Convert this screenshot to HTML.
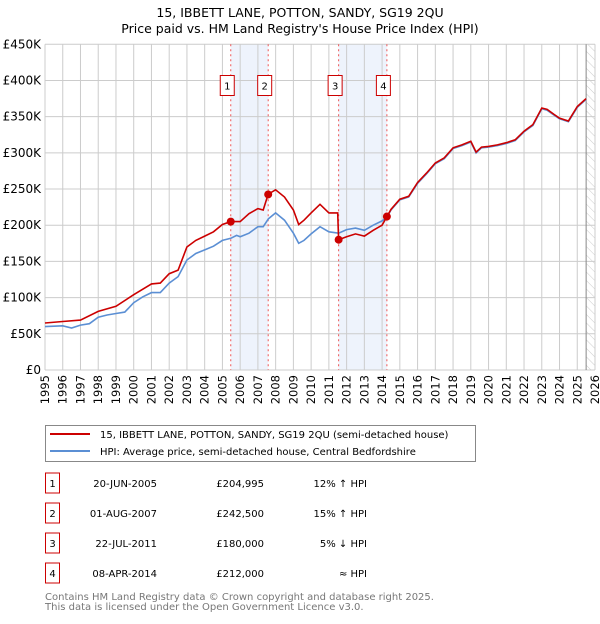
<!DOCTYPE html>
<html><head><meta charset="utf-8"><style>
body{margin:0;background:#fff;width:600px;height:620px;overflow:hidden;font-family:"DejaVu Sans","Liberation Sans",sans-serif}
svg text{font-family:"DejaVu Sans","Liberation Sans",sans-serif}
</style></head><body>
<svg id="c" width="600" height="620" xmlns="http://www.w3.org/2000/svg">
<defs><pattern id="hatch" width="6" height="6" patternUnits="userSpaceOnUse" patternTransform="rotate(-45)"><line x1="0" y1="0" x2="0" y2="6" stroke="#ccc" stroke-width="1"/></pattern></defs>
<text x="300" y="17" text-anchor="middle" font-size="12.5">15, IBBETT LANE, POTTON, SANDY, SG19 2QU</text>
<text x="300" y="33" text-anchor="middle" font-size="12.5">Price paid vs. HM Land Registry's House Price Index (HPI)</text>
<g id="grid"></g><g id="marks"></g>
<g>
<rect x="45.5" y="425.5" width="430" height="36" fill="#fff" stroke="#888"/>
<line x1="50" y1="434" x2="90" y2="434" stroke="#cc0000" stroke-width="2"/>
<text x="100" y="438" font-size="10">15, IBBETT LANE, POTTON, SANDY, SG19 2QU (semi-detached house)</text>
<line x1="50" y1="451" x2="90" y2="451" stroke="#5b8fd4" stroke-width="2"/>
<text x="100" y="455" font-size="10">HPI: Average price, semi-detached house, Central Bedfordshire</text>
</g>
<g id="table" font-size="10"></g>
<text x="45" y="600" font-size="10" fill="#777">Contains HM Land Registry data © Crown copyright and database right 2025.</text>
<text x="45" y="610" font-size="10" fill="#777">This data is licensed under the Open Government Licence v3.0.</text>
</svg>
<script>
const hpiYears=[1995,1996,1996.5,1997,1997.5,1998,1998.5,1999,1999.5,2000,2000.5,2001,2001.5,2002,2002.5,2003,2003.5,2004,2004.5,2005,2005.47,2005.8,2006,2006.5,2007,2007.3,2007.6,2008,2008.5,2009,2009.3,2009.6,2010,2010.5,2011,2011.55,2012,2012.5,2013,2013.5,2014,2014.27,2014.5,2015,2015.5,2016,2016.5,2017,2017.5,2018,2018.5,2019,2019.3,2019.6,2020,2020.5,2021,2021.5,2022,2022.5,2023,2023.3,2023.7,2024,2024.5,2024.6,2025,2025.5];
const hpiValues=[60,61,58,62,64,73,76,78,80,93,101,107,107,120,129,152,161,166,171,179,182,186,184,189,198,198,209,217,207,189,175,179,188,198,191,189,194,196,193,200,206,211,221,235,239,258,271,285,292,306,310,315,300,307,308,310,313,317,329,338,361,359,352,347,343,347,363,374];
const priceYears=[1995,1996,1997,1998,1999,2000,2001,2001.5,2002,2002.5,2003,2003.5,2004,2004.5,2005,2005.47,2006,2006.5,2007,2007.3,2007.58,2008,2008.5,2009,2009.3,2009.6,2010,2010.5,2011,2011.5,2011.55,2012,2012.5,2013,2013.5,2014,2014.27,2014.5,2015,2015.5,2016,2016.5,2017,2017.5,2018,2018.5,2019,2019.3,2019.6,2020,2020.5,2021,2021.5,2022,2022.5,2023,2023.3,2023.7,2024,2024.5,2024.6,2025,2025.5];
const priceValues=[65,67,69,81,88,104,119,120,133,138,170,179,185,191,201,205,205,216,223,221,243,249,239,221,201,207,217,229,217,217,180,184,188,185,193,200,212,222,236,240,259,272,286,293,307,311,316,301,308,309,311,314,318,330,339,362,360,353,348,344,348,364,375];
const saleYears=[2005.47,2007.58,2011.55,2014.27];
const saleValues=[204.995,242.5,180,212];
const saleLabels=["1","2","3","4"];
const saleDates=["20-JUN-2005","01-AUG-2007","22-JUL-2011","08-APR-2014"];
const salePrices=["£204,995","£242,500","£180,000","£212,000"];
const saleHpi=["12% ↑ HPI","15% ↑ HPI","5% ↓ HPI","≈ HPI"];
const yTicks=[0,50,100,150,200,250,300,350,400,450];
const yTickLabels=["£0","£50K","£100K","£150K","£200K","£250K","£300K","£350K","£400K","£450K"];
const xTicks=[1995,1996,1997,1998,1999,2000,2001,2002,2003,2004,2005,2006,2007,2008,2009,2010,2011,2012,2013,2014,2015,2016,2017,2018,2019,2020,2021,2022,2023,2024,2025,2026];
const X0=45,X1=595,Y0=370,Y1=44.3;
const sx=y=>X0+(y-1995)/31*(X1-X0);
const sy=v=>Y0-v/450*(Y0-Y1);
const NS="http://www.w3.org/2000/svg";
function mk(p,t,a){const e=document.createElementNS(NS,t);for(const k in a)e.setAttribute(k,a[k]);p.appendChild(e);return e;}
const g=document.getElementById('grid'),m=document.getElementById('marks'),tb=document.getElementById('table');
for(let i=0;i<4;i+=2){const r=mk(g,'rect',{x:sx(saleYears[i]),y:Y1,width:sx(saleYears[i+1])-sx(saleYears[i]),height:Y0-Y1,fill:'#eef3fc'});

}
const hz=mk(g,'rect',{x:sx(2025.5),y:Y1,width:X1-sx(2025.5),height:Y0-Y1,fill:'url(#hatch)'});


yTicks.forEach((v,i)=>{mk(g,'line',{x1:X0,x2:X1,y1:sy(v),y2:sy(v),stroke:'#ccc'});
const t=mk(g,'text',{x:X0-4,y:sy(v)+4,'text-anchor':'end','font-size':'12'});t.textContent=yTickLabels[i];

});
xTicks.forEach(y=>{mk(g,'line',{x1:sx(y),x2:sx(y),y1:Y1,y2:Y0,stroke:'#ccc'});
const t=mk(g,'text',{x:0,y:0,'text-anchor':'end','font-size':'11.5',transform:`translate(${sx(y)+4},${Y0+5}) rotate(-90)`});t.textContent=y;

});
mk(g,'line',{x1:sx(2025.5),x2:sx(2025.5),y1:Y1,y2:Y0,stroke:'#888'});
saleYears.forEach((y,i)=>{const l=mk(m,'line',{x1:sx(y),x2:sx(y),y1:Y1,y2:Y0,stroke:'#e55','stroke-dasharray':'2,3','stroke-width':1});

});
function path(xs,vs,c,name){const d=xs.map((y,i)=>(i?'L':'M')+sx(y).toFixed(1)+','+sy(vs[i]).toFixed(1)).join('');
const p=mk(m,'path',{d:d,fill:'none',stroke:c,'stroke-width':1.6});

}
path(hpiYears,hpiValues,'#5b8fd4','hpi-line');
path(priceYears,priceValues,'#cc0000','price-line');
saleYears.forEach((y,i)=>{const c=mk(m,'circle',{cx:sx(y),cy:sy(saleValues[i]),r:4,fill:'#cc0000'});


const r=mk(m,'rect',{x:sx(y)-10.5,y:75.5,width:14,height:20,fill:'#fff',stroke:'#cc0000'});


const t=mk(m,'text',{x:sx(y)-3.5,y:89.5,'text-anchor':'middle','font-size':'10'});t.textContent=saleLabels[i];

});
const rowY=[483,513,543,573];
saleLabels.forEach((s,i)=>{const y=rowY[i];
const r=mk(tb,'rect',{x:45.5,y:y-10,width:14,height:20,fill:'#fff',stroke:'#cc0000'});


const a=mk(tb,'text',{x:52.5,y:y+4,'text-anchor':'middle'});a.textContent=s;


const b=mk(tb,'text',{x:157,y:y+4,'text-anchor':'end'});b.textContent=saleDates[i];


const c=mk(tb,'text',{x:264,y:y+4,'text-anchor':'end'});c.textContent=salePrices[i];


const d=mk(tb,'text',{x:367,y:y+4,'text-anchor':'end'});d.textContent=saleHpi[i];

});
</script>
</body></html>
